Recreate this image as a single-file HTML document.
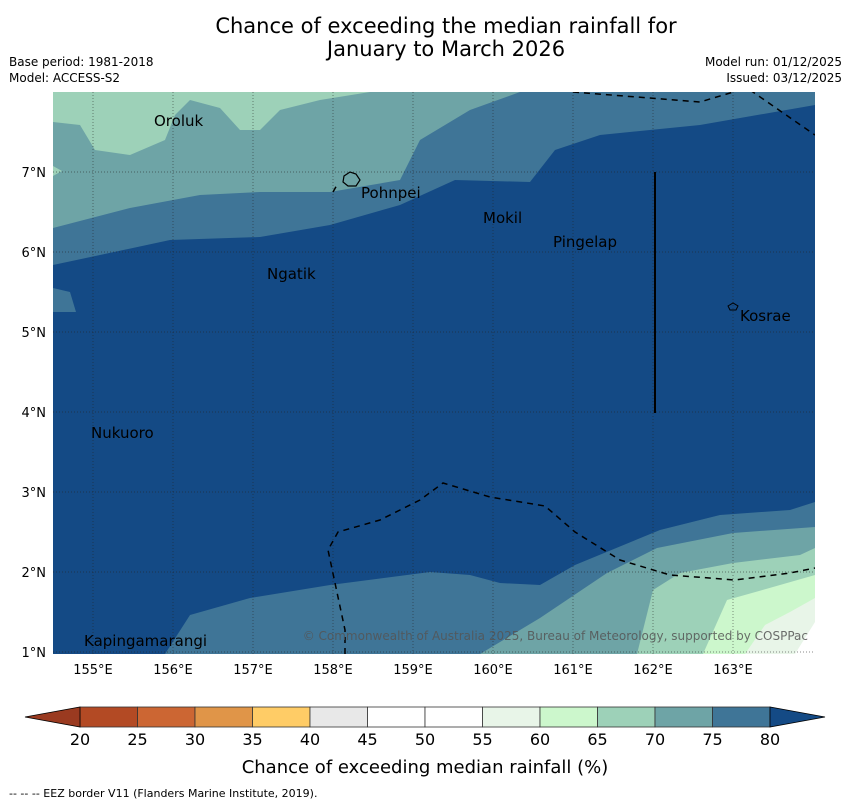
<!DOCTYPE html>
<html><head><meta charset="utf-8"><style>
body{margin:0;background:#fff;width:850px;height:804px;overflow:hidden;font-family:"Liberation Sans","DejaVu Sans",sans-serif}
svg text{font-family:"DejaVu Sans","Liberation Sans",sans-serif}
</style></head><body>
<svg id="chart" width="850" height="804" xmlns="http://www.w3.org/2000/svg">
<text x="446" y="33" font-size="21" text-anchor="middle">Chance of exceeding the median rainfall for</text>
<text x="446" y="56" font-size="21" text-anchor="middle">January to March 2026</text>
<text x="9" y="66" font-size="12">Base period: 1981-2018</text>
<text x="9" y="82" font-size="12">Model: ACCESS-S2</text>
<text x="842" y="66" font-size="12" text-anchor="end">Model run: 01/12/2025</text>
<text x="842" y="82" font-size="12" text-anchor="end">Issued: 03/12/2025</text>
<defs><clipPath id="mc"><rect x="53" y="92" width="762" height="562"/></clipPath></defs>
<g clip-path="url(#mc)">
<rect x="53" y="92" width="762" height="562" fill="#144a85"/>
<polygon fill="#3f7597" points="53,92 53,265 100,255 170,240 260,237 330,225 400,205 455,180 530,182 555,150 600,135 700,125 815,105 815,92"/>
<polygon fill="#3f7597" points="53,288 70,292 76,312 53,312"/>
<polygon fill="#6ea4a6" points="53,92 53,228 130,208 200,195 260,192 330,192 400,180 420,140 470,110 520,92"/>
<polygon fill="#9dd1b8" points="53,92 53,122 80,125 95,150 130,155 165,140 175,115 190,100 220,108 240,130 260,130 280,110 320,100 370,92"/>
<polygon fill="#9dd1b8" points="53,166 62,171 53,176"/>
<polygon fill="#3f7597" points="165,654 190,615 250,598 330,585 430,572 470,575 500,583 540,585 575,565 660,530 720,515 790,510 815,502 815,654"/>
<polygon fill="#6ea4a6" points="480,654 540,618 607,573 657,548 733,533 815,527 815,654"/>
<polygon fill="#9dd1b8" points="637,654 653,590 680,573 733,563 800,555 815,548 815,654"/>
<polygon fill="#ccf7cc" points="703,654 727,600 773,587 815,575 815,654"/>
<polygon fill="#e8f5e8" points="745,654 765,625 790,612 815,598 815,654"/>
<polygon fill="#ffffff" points="795,654 815,622 815,654"/>
<g id="grid" stroke="#222" stroke-width="0.7" stroke-dasharray="1,2" opacity="0.7"></g>
<g fill="none" stroke="#000" stroke-width="1.5" stroke-dasharray="6,5">
<polyline points="573,92 700,102 740,90"/>
<polyline points="750,90 815,135"/>
<polyline points="345,654 345,630 328,550 338,532 380,520 420,500 443,483 490,497 545,506 575,532 620,560 670,575 735,580 790,573 815,568"/>
<polyline points="333,192 337,185"/>
</g>
<line x1="655" y1="172" x2="655" y2="413" stroke="#000" stroke-width="2"/>
<path d="M344,176 l6,-4 l6,2 l4,6 l-4,6 l-8,0 l-5,-4z" fill="none" stroke="#000" stroke-width="1.2"/>
<path d="M728,306 l5,-3 l5,3 l-2,4 l-6,0z" fill="none" stroke="#000" stroke-width="1"/>
<text x="808" y="640" font-size="12" fill="#555" text-anchor="end" opacity="0.85">© Commonwealth of Australia 2025, Bureau of Meteorology, supported by COSPPac</text>
</g>
<g font-size="15" fill="#000">
<text x="154" y="126">Oroluk</text>
<text x="361" y="198">Pohnpei</text>
<text x="483" y="223">Mokil</text>
<text x="553" y="247">Pingelap</text>
<text x="267" y="279">Ngatik</text>
<text x="740" y="321">Kosrae</text>
<text x="91" y="438">Nukuoro</text>
<text x="84" y="646">Kapingamarangi</text>
</g>
<g id="axes" font-size="13"></g>
<g id="cbar"></g>
<text x="425" y="773" font-size="18" text-anchor="middle">Chance of exceeding median rainfall (%)</text>
<text x="9" y="797" font-size="11">--  --  -- EEZ border V11 (Flanders Marine Institute, 2019).</text>
</svg>
<script>
const lonTicks=[155,156,157,158,159,160,161,162,163];
const latTicks=[1,2,3,4,5,6,7];
const cbarBounds=[20,25,30,35,40,45,50,55,60,65,70,75,80];
const cbarColors=["#b34a24","#cc6633","#e09548","#ffcc66","#e8e8e8","#ffffff","#ffffff","#e8f5e8","#ccf7cc","#9dd1b8","#6ea4a6","#3f7597"];
const cbarLow="#9a3a20", cbarHigh="#144a85";
const NS="http://www.w3.org/2000/svg";
const xLon=l=>93+(l-155)*80, yLat=l=>652-(l-1)*80;
const cx=v=>80+(v-20)/60*690;
function mk(t,a,p){const e=document.createElementNS(NS,t);for(const k in a)e.setAttribute(k,a[k]);p.appendChild(e);return e;}
const grid=document.getElementById('grid'), axes=document.getElementById('axes'), cb=document.getElementById('cbar');
lonTicks.forEach(l=>{
 const g=mk('line',{x1:xLon(l),x2:xLon(l),y1:92,y2:654},grid);
 
 
 const t=mk('text',{x:xLon(l),y:674,'text-anchor':'middle'},axes);t.textContent=l+'°E';
 
 
});
latTicks.forEach(l=>{
 const g=mk('line',{x1:53,x2:815,y1:yLat(l),y2:yLat(l)},grid);
 
 
 const t=mk('text',{x:46,y:yLat(l)+5,'text-anchor':'end'},axes);t.textContent=l+'°N';
 
 
});
cbarColors.forEach((c,i)=>{
 const r=mk('rect',{x:cx(cbarBounds[i]),y:707,width:cx(cbarBounds[i+1])-cx(cbarBounds[i]),height:20,fill:c,stroke:'#333','stroke-width':0.8},cb);
 
 
});
const lt=mk('polygon',{points:`${cx(20)},707 ${cx(20)},727 25,717`,fill:cbarLow,stroke:'#000','stroke-width':0.8},cb);


const ht=mk('polygon',{points:`${cx(80)},707 ${cx(80)},727 825,717`,fill:cbarHigh,stroke:'#000','stroke-width':0.8},cb);


cbarBounds.forEach(v=>{
 const t=mk('text',{x:cx(v),y:745,'text-anchor':'middle','font-size':16},cb);t.textContent=v;
 
 
});
</script>
</body></html>
